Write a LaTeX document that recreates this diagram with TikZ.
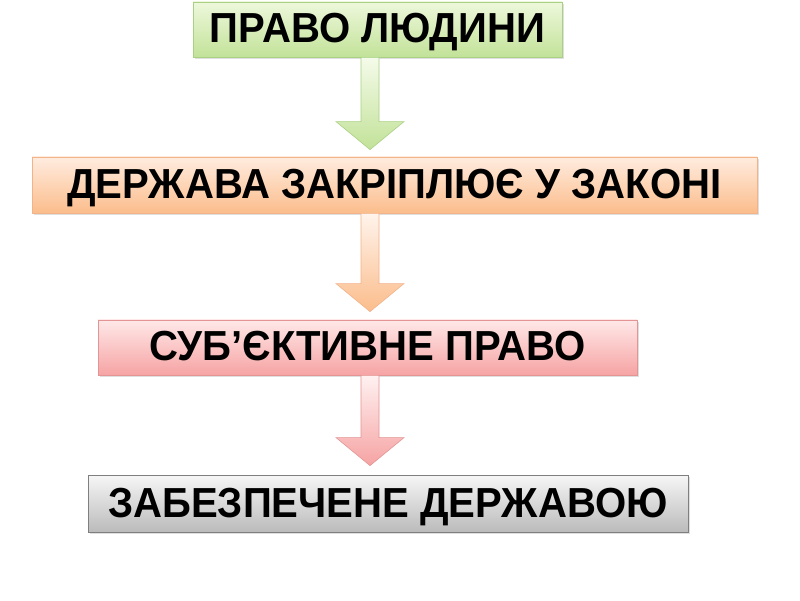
\documentclass[tikz,border=0pt]{standalone}
\usepackage{fontspec}
\usepackage{graphicx}
\setmainfont{Liberation Sans}
\usetikzlibrary{shadows,calc}
\definecolor{gTop}{HTML}{EEF8DC}
\definecolor{gBot}{HTML}{C2E298}
\definecolor{gLine}{HTML}{A9D184}
\definecolor{oTop}{HTML}{FFECDF}
\definecolor{oBot}{HTML}{FBBD8C}
\definecolor{oLine}{HTML}{F2B38A}
\definecolor{pTop}{HTML}{FFE8E8}
\definecolor{pBot}{HTML}{F6A3A3}
\definecolor{pLine}{HTML}{E39595}
\definecolor{yTop}{HTML}{F6F6F6}
\definecolor{yBot}{HTML}{BBBBBB}
\definecolor{yLine}{HTML}{7F7F7F}
\newcommand{\boxtext}[1]{\scalebox{0.955}[1]{#1}}
\tikzset{
  box/.style={rectangle, inner sep=0pt, line width=0.8pt,
    text height=30pt, text depth=3pt,
    font=\fontsize{42}{48}\selectfont\bfseries, text=black,
    drop shadow={opacity=0.25, shadow xshift=1.5pt, shadow yshift=-2pt}},
  greenbox/.style={box, draw=gLine, top color=gTop, bottom color=gBot},
  orangebox/.style={box, draw=oLine, top color=oTop, bottom color=oBot},
  pinkbox/.style={box, draw=pLine, top color=pTop, bottom color=pBot},
  graybox/.style={box, draw=yLine, top color=yTop, bottom color=yBot},
  blockarrow/.style={line width=0.6pt},
}
\newcommand{\blkarrow}[4]{%
  \path[blockarrow,#3] let \p1=(#1.south), \p2=(#2.north) in
    (361pt,\y1) -- (361pt,{\y2+#4+28pt}) -- (336pt,{\y2+#4+28pt}) --
    (370pt,{\y2+#4}) -- (404pt,{\y2+#4+28pt}) -- (379pt,{\y2+#4+28pt}) --
    (379pt,\y1) -- cycle;}
\begin{document}
\begin{tikzpicture}[x=1pt,y=1pt]
\useasboundingbox[fill=white] (0,0) rectangle (800,600);
\node[greenbox, minimum width=369pt, minimum height=55pt] (a) at (377.5,570.5) {\boxtext{ПРАВО ЛЮДИНИ}};
\node[orangebox, minimum width=725pt, minimum height=56pt] (b) at (394.5,415) {\boxtext{ДЕРЖАВА ЗАКРІПЛЮЄ У ЗАКОНІ}};
\node[pinkbox, minimum width=539pt, minimum height=55pt] (c) at (367.5,252.5) {\boxtext{СУБ’ЄКТИВНЕ ПРАВО}};
\node[graybox, minimum width=600pt, minimum height=57pt] (d) at (388,96.5) {\boxtext{ЗАБЕЗПЕЧЕНЕ ДЕРЖАВОЮ}};
\blkarrow{a}{b}{draw=gLine, top color=gTop!60!white, bottom color=gBot}{7pt}
\blkarrow{b}{c}{draw=oLine, top color=oTop!60!white, bottom color=oBot}{8pt}
\blkarrow{c}{d}{draw=pLine, top color=pTop!60!white, bottom color=pBot}{9pt}
\end{tikzpicture}
\end{document}
